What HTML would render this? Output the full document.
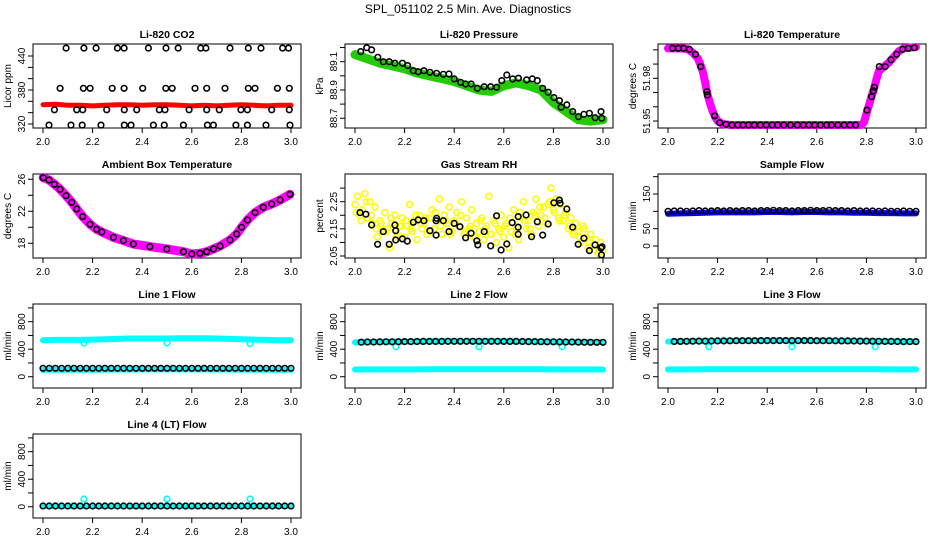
<!DOCTYPE html>
<html><head><meta charset="utf-8"><title>SPL_051102 Diagnostics</title>
<style>
html,body{margin:0;padding:0;background:#fff;}
svg{display:block;font-family:"Liberation Sans",Arial,sans-serif;}
.pt{fill:none;stroke-width:1.6;}
.tl{font-size:10px;fill:#000;}
.tt{font-size:10.5px;font-weight:bold;fill:#000;}
</style></head>
<body>
<svg id="chart" width="936" height="540" viewBox="0 0 936 540" xmlns="http://www.w3.org/2000/svg">
<text x="468" y="13" text-anchor="middle" font-size="12">SPL_051102  2.5 Min. Ave. Diagnostics</text>
</svg>
<script>
// ---------- data ----------
const xTicks = [2.0, 2.2, 2.4, 2.6, 2.8, 3.0];
const xTickLabels = ["2.0","2.2","2.4","2.6","2.8","3.0"];
const gridX = [2.00,2.05,2.10,2.15,2.20,2.25,2.30,2.35,2.40,2.45,2.50,2.55,2.60,2.65,2.70,2.75,2.80,2.85,2.90,2.95,3.00];

// CO2
const co2X = [2.093,2.165,2.214,2.30,2.327,2.425,2.496,2.545,2.636,2.657,2.754,2.828,2.879,2.966,2.99,
 2.069,2.163,2.19,2.279,2.327,2.402,2.495,2.521,2.613,2.66,2.734,2.828,2.855,2.945,2.993,
 2.046,2.136,2.16,2.257,2.328,2.378,2.469,2.492,2.589,2.66,2.711,2.798,2.824,2.922,2.993,
 2.024,2.113,2.158,2.234,2.328,2.355,2.445,2.489,2.566,2.663,2.687,2.778,2.824,2.899,2.996];
const co2Y = [454,454,454,454,454,454,454,454,454,454,454,454,454,454,454,
 383,383,383,383,383,383,383,383,383,383,383,383,383,383,383,
 345,345,345,345,345,345,345,345,345,345,345,345,345,345,345,
 318,318,318,318,318,318,318,318,318,318,318,318,318,318,318];
const co2Red = [354,355,353,353,352,353,354,354,353,354,354,353,352,353,352,353,354,353,352,353,353];

// Pressure
const presGreen = [89.15,89.12,89.09,89.07,89.05,89.02,89.00,88.98,88.96,88.93,88.90,88.89,88.93,88.95,88.93,88.90,88.81,88.75,88.69,88.68,88.69];
const presX = [2.023,2.047,2.067,2.092,2.114,2.138,2.161,2.191,2.212,2.235,2.255,2.278,2.302,2.329,2.356,2.379,2.4,2.426,2.446,2.468,2.493,2.521,2.547,2.571,2.592,2.612,2.636,2.659,2.692,2.715,2.735,2.757,2.779,2.802,2.824,2.831,2.854,2.878,2.901,2.923,2.945,2.968,2.992,2.995];
const presY = [89.171,89.199,89.183,89.131,89.1,89.1,89.089,89.089,89.072,89.036,89.029,89.036,89.025,89.018,89.011,89.013,88.978,88.954,88.942,88.942,88.912,88.923,88.923,88.919,88.966,89.006,88.978,88.983,88.971,88.978,88.966,88.912,88.884,88.846,88.824,88.778,88.794,88.747,88.711,88.728,88.735,88.704,88.747,88.7];

// Li-820 temperature
const ltMagX = [2.0,2.05,2.08,2.1,2.12,2.13,2.14,2.15,2.16,2.17,2.18,2.19,2.2,2.22,2.25,2.5,2.78,2.79,2.8,2.81,2.82,2.83,2.84,2.85,2.87,2.89,2.91,2.93,2.95,3.0];
const ltMagY = [52.001,52.001,52.0005,51.998,51.994,51.990,51.985,51.977,51.968,51.962,51.957,51.953,51.950,51.948,51.9472,51.9472,51.9472,51.949,51.955,51.961,51.967,51.972,51.979,51.985,51.988,51.991,51.995,51.999,52.001,52.002];
const ltX = [2.018,2.042,2.062,2.086,2.111,2.132,2.157,2.159,2.188,2.208,2.234,2.258,2.281,2.302,2.325,2.348,2.372,2.396,2.42,2.442,2.467,2.494,2.521,2.545,2.568,2.591,2.615,2.64,2.659,2.685,2.71,2.734,2.757,2.802,2.821,2.828,2.832,2.852,2.876,2.899,2.922,2.946,2.969,2.993];
const ltY = [52.0011,52.0011,52.0011,52.0004,51.9969,51.9882,51.9706,51.9683,51.9537,51.9488,51.9477,51.9472,51.9472,51.9472,51.9472,51.9472,51.9472,51.9472,51.9472,51.9472,51.9472,51.9472,51.9472,51.9472,51.9472,51.9472,51.9472,51.9472,51.9472,51.9472,51.9472,51.9472,51.9472,51.9577,51.9671,51.9713,51.9737,51.9882,51.9882,51.9930,51.9969,52.0004,52.0011,52.0015];

// Ambient box temperature
const ambX = [2.001,2.024,2.046,2.069,2.093,2.116,2.136,2.16,2.19,2.216,2.237,2.284,2.324,2.364,2.431,2.499,2.566,2.6,2.633,2.66,2.687,2.714,2.754,2.781,2.801,2.824,2.855,2.888,2.922,2.956,2.996];
const ambY = [26.2,25.91,25.37,24.75,23.95,23.12,22.29,21.33,20.37,19.75,19.41,18.75,18.33,17.91,17.58,17.29,16.95,16.66,16.75,16.95,17.29,17.66,18.41,19.16,20.0,20.91,21.83,22.5,22.91,23.41,24.12];

// Gas stream RH
const rhYellow = [2.24,2.27,2.20,2.22,2.28,2.19,2.25,2.17,2.23,2.12,
 2.18,2.14,2.21,2.15,2.08,2.17,2.20,2.13,2.16,2.19,
 2.12,2.16,2.24,2.14,2.18,2.11,2.20,2.15,2.17,2.13,
 2.19,2.22,2.15,2.18,2.26,2.13,2.20,2.17,2.23,2.14,
 2.18,2.21,2.16,2.25,2.13,2.19,2.15,2.22,2.12,2.17,
 2.14,2.19,2.11,2.16,2.27,2.13,2.18,2.10,2.15,2.20,
 2.12,2.17,2.08,2.14,2.22,2.16,2.11,2.19,2.25,2.15,
 2.18,2.13,2.21,2.26,2.16,2.20,2.23,2.17,2.24,2.30,
 2.22,2.26,2.19,2.24,2.18,2.21,2.15,2.19,2.13,2.17,
 2.14,2.10,2.16,2.12,2.08,2.13,2.09,2.11,2.06,2.10,2.07];
const rhYellow2 = [2.21,2.18,2.25,2.20,2.15,2.17,2.14,2.19,2.12,2.16,
 2.18,2.15,2.20,2.17,2.19,2.14,2.21,2.16,2.18,2.13,
 2.17,2.20,2.14,2.16,2.12,2.18,2.15,2.13,2.17,2.14,
 2.16,2.19,2.13,2.21,2.18,2.15,2.20,2.23,2.19,2.25,
 2.21,2.18,2.20,2.16,2.14,2.12,2.15,2.10,2.09,2.07];
const rhX = [2.020,2.044,2.067,2.091,2.114,2.138,2.161,2.164,2.164,2.191,2.211,2.235,2.255,2.278,2.302,2.327,2.327,2.329,2.356,2.379,2.4,2.423,2.446,2.468,2.491,2.495,2.521,2.547,2.571,2.589,2.612,2.634,2.658,2.658,2.658,2.69,2.712,2.735,2.757,2.779,2.802,2.824,2.827,2.854,2.878,2.9,2.923,2.945,2.968,2.992,2.994,2.996];
const rhY = [2.210,2.204,2.164,2.093,2.140,2.093,2.164,2.143,2.109,2.113,2.105,2.174,2.183,2.180,2.143,2.127,2.180,2.189,2.180,2.140,2.170,2.158,2.117,2.134,2.106,2.091,2.140,2.087,2.198,2.072,2.094,2.173,2.195,2.156,2.130,2.201,2.121,2.176,2.127,2.168,2.246,2.256,2.244,2.223,2.156,2.093,2.115,2.070,2.091,2.079,2.054,2.084];

// Sample flow
const sfBlue = [93,94,95,96,97,97,97,97,98,98,97,98,98,97,97,96,96,95,95,94,94];
const sfBlack = [100,101,101,100,101,102,101,101,102,101,102,101,102,102,101,102,102,103,102,102,101,102,102,103,102,102,103,102,102,101,102,101,101,101,100,101,100,100,101,100,100];

// Line flows
const l1Cyan = [530,535,535,535,540,545,550,555,555,555,555,560,560,560,555,550,545,540,535,530,530];
const l1CyanLow = [100,100,100,100,102,104,105,105,106,106,106,106,106,106,105,105,104,103,102,101,100];
const l1Black = [122,122,122,122,122,123,123,123,123,123,123,123,123,123,123,123,123,123,123,123,123,123,123,123,123,123,123,123,123,123,123,123,123,123,123,122,122,122,122,122,122];
const l2Black = [500,502,504,505,506,507,508,509,510,511,512,513,513,514,514,515,515,515,515,515,515,515,515,515,514,514,513,512,511,510,509,508,507,506,505,504,503,502,501,500,500];
const l2CyanLow = [105,106,106,107,107,107,108,108,108,108,108,108,108,108,108,108,107,107,106,106,105];
const l3Black = [510,512,514,515,516,517,518,519,520,521,522,523,523,524,524,525,525,525,525,525,525,525,525,525,524,524,523,522,521,520,519,518,517,516,515,514,513,512,511,510,510];
const l3CyanLow = [106,107,107,108,108,108,109,109,109,109,109,109,109,109,109,109,108,108,107,107,106];
const l4Black = [10,10,10,10,10,10,10,10,10,10,10,10,10,10,10,10,10,10,10,10,10,10,10,10,10,10,10,10,10,10,10,10,10,10,10,10,10,10,10,10,10];
const l4Cyan = [5,5,5,5,5,5,5,5,5,5,5,5,5,5,5,5,5,5,5,5,5];
const outlierX = [2.165, 2.5, 2.835];
const l1Outliers = [490, 490, 480];
const l23Outliers = [436, 436, 436];
const l4Outliers = [112, 112, 112];

// ---------- drawing ----------
const NS = "http://www.w3.org/2000/svg";
const svg = document.getElementById('chart');
function mk(tag, attrs, parent) {
  const e = document.createElementNS(NS, tag);
  for (const k in attrs) e.setAttribute(k, attrs[k]);
  (parent || svg).appendChild(e);
  return e;
}
const colLeft = [33, 345, 658];
const rowTop = [44, 174, 304, 434];
const FW = 268, FH = 84;
const blackX41 = [];
for (let i = 0; i <= 40; i++) blackX41.push(2.0 + i * 0.025);

function panel(col, row, name, title, ylab, ymin, ymax, ticks, labels) {
  const L = colLeft[col], T = rowTop[row];
  const g = mk('g', {});
  
  
  const xs = v => L + 10 + (v - 2) * 248;
  const ys = v => T + FH - (v - ymin) / (ymax - ymin) * FH;
  const fr = mk('rect', {x: L, y: T, width: FW, height: FH, fill: 'none', stroke: '#000', 'stroke-width': 1}, g);
  
  
  const t = mk('text', {x: L + FW / 2, y: T - 6, 'text-anchor': 'middle', class: 'tt'}, g);
  t.textContent = title;
  
  
  const yl = mk('text', {transform: `translate(${L - 22},${T + FH / 2}) rotate(-90)`, 'text-anchor': 'middle', class: 'tl'}, g);
  yl.textContent = ylab;
  
  
  const xa = mk('g', {}, g);
  
  
  mk('line', {x1: xs(2), x2: xs(3), y1: T + FH, y2: T + FH, stroke: '#000'}, xa);
  xTicks.forEach((v, i) => {
    mk('line', {x1: xs(v), x2: xs(v), y1: T + FH, y2: T + FH + 5, stroke: '#000'}, xa);
    const tx = mk('text', {x: xs(v), y: T + FH + 17, 'text-anchor': 'middle', class: 'tl'}, xa);
    tx.textContent = xTickLabels[i];
  });
  const ya = mk('g', {}, g);
  
  
  ticks.forEach(v => mk('line', {x1: L - 5, x2: L, y1: ys(v), y2: ys(v), stroke: '#000'}, ya));
  labels.forEach(s => {
    const tx = mk('text', {transform: `translate(${L - 8},${ys(parseFloat(s))}) rotate(-90)`, 'text-anchor': 'middle', class: 'tl'}, ya);
    tx.textContent = s;
  });
  return {g, xs, ys, L, T};
}
function band(p, xArr, yArr, color, w, name) {
  const pts = xArr.map((x, i) => p.xs(x).toFixed(1) + ',' + p.ys(yArr[i]).toFixed(1)).join(' ');
  const pl = mk('polyline', {points: pts, fill: 'none', stroke: color, 'stroke-width': w, 'stroke-linejoin': 'round', 'stroke-linecap': 'round'}, p.g);
  
  
}
function dots(p, xArr, yArr, color, name, r) {
  const grp = mk('g', {}, p.g);
  
  
  xArr.forEach((x, i) => {
    mk('circle', {cx: p.xs(x).toFixed(1), cy: p.ys(yArr[i]).toFixed(1), r: r || 2.8, class: 'pt', stroke: color}, grp);
  });
}

// Panel 1: CO2
let p = panel(0, 0, 'co2', 'Li-820 CO2', 'Licor ppm', 312.9, 461.2, [320,340,360,380,400,420,440], ['320','380','440']);
band(p, gridX, co2Red, '#ff0000', 5, 'co2-red-series');
dots(p, co2X, co2Y, '#000', 'co2-black-points');

// Panel 2: Pressure
p = panel(1, 0, 'pressure', 'Li-820 Pressure', 'kPa', 88.631, 89.225, [88.7,88.8,88.9,89.0,89.1,89.2], ['88.7','88.9','89.1']);
band(p, gridX, presGreen, '#22cc00', 9, 'pressure-green-series');
dots(p, gridX, presGreen, '#22cc00', 'pressure-green-points', 3);
dots(p, presX, presY, '#000', 'pressure-black-points');

// Panel 3: Li-820 temperature
p = panel(2, 0, 'licor-temp', 'Li-820 Temperature', 'degrees C', 51.9451, 52.0041, [51.95,51.96,51.97,51.98,51.99,52.00], ['51.95','51.98']);
band(p, ltMagX, ltMagY, '#ff00ff', 8, 'licor-temp-magenta-series');
dots(p, ltX, ltY, '#000', 'licor-temp-black-points');

// Panel 4: Ambient box temperature
p = panel(0, 1, 'ambient-temp', 'Ambient Box Temperature', 'degrees C', 16.16, 26.66, [18,20,22,24,26], ['18','22','26']);
band(p, ambX, ambY, '#ff00ff', 9, 'ambient-magenta-series');
dots(p, ambX, ambY, '#000', 'ambient-black-points');

// Panel 5: Gas stream RH
p = panel(1, 1, 'rh', 'Gas Stream RH', 'percent', 2.0426, 2.352, [2.05,2.10,2.15,2.20,2.25,2.30], ['2.05','2.15','2.25']);
dots(p, rhYellow.map((v, i) => 2 + i * 0.01), rhYellow, '#ffff00', 'rh-yellow-points', 3);
dots(p, rhYellow2.map((v, i) => 2.005 + i * 0.02), rhYellow2, '#ffff00', 'rh-yellow-points-2', 3);
dots(p, rhX, rhY, '#000', 'rh-black-points');

// Panel 6: Sample flow
p = panel(2, 1, 'sample-flow', 'Sample Flow', 'ml/min', -34.6, 207.7, [0,50,100,150,200], ['0','50','150']);
band(p, gridX, sfBlue, '#0000ff', 6, 'sample-flow-blue-series');
dots(p, blackX41, sfBlack, '#000', 'sample-flow-black-points');

// Panels 7-10: line flows
const lT = [0,200,400,600,800,1000], lL = ['0','400','800'];
p = panel(0, 2, 'line1', 'Line 1 Flow', 'ml/min', -164, 1057, lT, lL);
band(p, gridX, l1Cyan, '#00ffff', 6, 'line1-cyan-series');
band(p, gridX, l1CyanLow, '#00ffff', 6, 'line1-cyan-low-series');
dots(p, outlierX, l1Outliers, '#00ffff', 'line1-cyan-outliers');
dots(p, blackX41, l1Black, '#000', 'line1-black-points');

p = panel(1, 2, 'line2', 'Line 2 Flow', 'ml/min', -164, 1057, lT, lL);
band(p, gridX, l2CyanLow, '#00ffff', 6, 'line2-cyan-series');
band(p, blackX41, l2Black, '#00ffff', 6, 'line2-cyan-upper-series');
dots(p, outlierX, l23Outliers, '#00ffff', 'line2-cyan-outliers');
dots(p, blackX41.slice(1), l2Black.slice(1), '#000', 'line2-black-points');

p = panel(2, 2, 'line3', 'Line 3 Flow', 'ml/min', -164, 1057, lT, lL);
band(p, gridX, l3CyanLow, '#00ffff', 6, 'line3-cyan-series');
band(p, blackX41, l3Black, '#00ffff', 6, 'line3-cyan-upper-series');
dots(p, outlierX, l23Outliers, '#00ffff', 'line3-cyan-outliers');
dots(p, blackX41.slice(1), l3Black.slice(1), '#000', 'line3-black-points');

p = panel(0, 3, 'line4', 'Line 4 (LT) Flow', 'ml/min', -164, 1057, lT, lL);
band(p, gridX, l4Cyan, '#00ffff', 5, 'line4-cyan-series');
dots(p, outlierX, l4Outliers, '#00ffff', 'line4-cyan-outliers');
dots(p, blackX41, l4Black, '#000', 'line4-black-points');
</script>
</body></html>
